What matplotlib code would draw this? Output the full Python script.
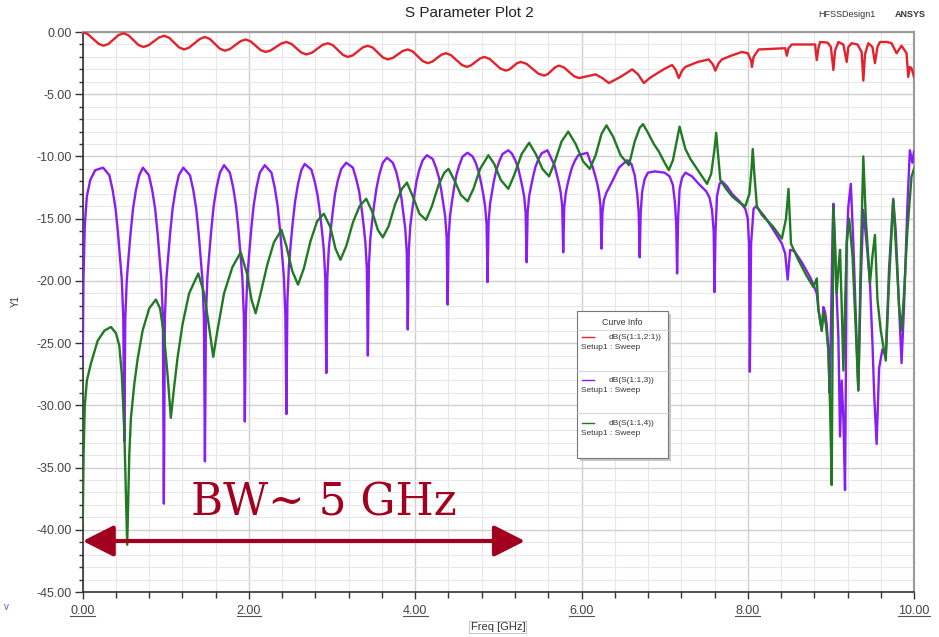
import numpy as np
import matplotlib
matplotlib.use("Agg")
import matplotlib.pyplot as plt
from matplotlib.ticker import MultipleLocator, FormatStrFormatter
from matplotlib.patches import Rectangle
import matplotlib.transforms as mtransforms

plt.rcParams['font.family'] = ['Liberation Sans', 'DejaVu Sans']

# dB(S(1:1,2:1)) -- red
s21 = [(0.00, 0.0), (0.06, -0.16), (0.125, -0.55), (0.19, -0.94), (0.25, -1.1),
       (0.31, -0.95), (0.37, -0.6), (0.43, -0.25), (0.49, -0.1),
       (0.55, -0.26), (0.61, -0.65), (0.67, -1.04), (0.73, -1.2),
       (0.79, -1.07), (0.855, -0.75), (0.92, -0.43), (0.98, -0.3),
       (1.04, -0.46), (1.10, -0.85), (1.16, -1.24), (1.22, -1.4),
       (1.28, -1.25), (1.345, -0.9), (1.41, -0.55), (1.47, -0.4),
       (1.53, -0.56), (1.59, -0.95), (1.65, -1.34), (1.71, -1.5),
       (1.77, -1.37), (1.835, -1.05), (1.90, -0.73), (1.96, -0.6),
       (2.02, -0.75), (2.08, -1.1), (2.14, -1.45), (2.20, -1.6),
       (2.26, -1.48), (2.325, -1.2), (2.39, -0.92), (2.45, -0.8),
       (2.51, -0.95), (2.57, -1.3), (2.63, -1.65), (2.69, -1.8),
       (2.755, -1.67), (2.82, -1.35), (2.885, -1.03), (2.95, -0.9),
       (3.01, -1.06), (3.07, -1.45), (3.13, -1.84), (3.19, -2.0),
       (3.25, -1.87), (3.31, -1.55), (3.37, -1.23), (3.43, -1.1),
       (3.49, -1.26), (3.55, -1.65), (3.61, -2.04), (3.67, -2.2),
       (3.73, -2.08), (3.79, -1.8), (3.85, -1.52), (3.91, -1.4),
       (3.97, -1.56), (4.03, -1.95), (4.09, -2.34), (4.15, -2.5),
       (4.205, -2.38), (4.26, -2.1), (4.315, -1.82), (4.37, -1.7),
       (4.43, -1.86), (4.495, -2.25), (4.56, -2.64), (4.62, -2.8),
       (4.67, -2.68), (4.725, -2.4), (4.78, -2.12), (4.83, -2.0),
       (4.895, -2.16), (4.96, -2.55), (5.025, -2.94), (5.09, -3.1),
       (5.135, -3.0), (5.18, -2.75), (5.225, -2.5), (5.27, -2.4),
       (5.34, -2.56), (5.41, -2.95), (5.48, -3.34), (5.55, -3.5),
       (5.595, -3.38), (5.64, -3.1), (5.685, -2.82), (5.73, -2.7),
       (5.79, -2.85), (5.85, -3.2), (5.91, -3.55), (5.97, -3.7),
       (6.07, -3.55), (6.17, -3.4), (6.25, -3.7), (6.33, -4.1), (6.47, -3.6), (6.61, -3.0),
       (6.68, -3.4), (6.75, -4.1), (6.82, -3.7), (6.89, -3.4), (7.00, -2.95), (7.09, -2.65),
       (7.13, -3.0), (7.17, -3.7), (7.21, -3.1), (7.25, -2.8), (7.40, -2.4), (7.53, -2.2),
       (7.58, -2.6), (7.61, -3.1), (7.65, -2.5), (7.69, -2.2), (7.80, -1.9), (7.93, -1.6),
       (8.00, -1.7), (8.04, -2.3), (8.05, -2.8), (8.07, -2.0), (8.13, -1.4), (8.30, -1.35),
       (8.45, -1.3), (8.47, -1.9), (8.49, -1.3), (8.53, -1.0), (8.70, -1.0), (8.81, -1.0),
       (8.83, -2.25), (8.85, -1.3), (8.87, -0.8), (8.96, -0.85), (9.00, -1.2), (9.03, -3.05),
       (9.05, -1.5), (9.09, -0.8), (9.15, -1.0), (9.19, -2.4), (9.21, -1.2), (9.25, -0.9),
       (9.32, -1.0), (9.37, -1.6), (9.39, -3.9), (9.41, -1.8), (9.45, -0.9), (9.50, -1.2),
       (9.53, -2.5), (9.56, -1.2), (9.59, -0.8), (9.68, -0.8), (9.73, -0.9), (9.79, -1.7),
       (9.85, -1.1), (9.91, -1.7), (9.93, -3.6), (9.95, -2.8), (9.97, -2.9), (10.00, -3.6)]

# dB(S(1:1,3)) -- purple
s13 = [(0.00, -26.5), (0.008, -20.0), (0.025, -15.5), (0.05, -13.2), (0.09, -11.9), (0.15, -11.1),
       (0.245, -10.9), (0.32, -11.5), (0.36, -12.7), (0.395, -14.2), (0.425, -16.2), (0.45, -18.2),
       (0.47, -19.9), (0.488, -23.0), (0.50, -32.9),
       (0.512, -23.0), (0.53, -19.9), (0.55, -18.2), (0.575, -16.2), (0.605, -14.2), (0.64, -12.7),
       (0.68, -11.5), (0.724, -10.9), (0.796, -11.5), (0.836, -12.7), (0.871, -14.2), (0.901, -16.2),
       (0.926, -18.2), (0.946, -19.9), (0.964, -23.0), (0.976, -37.9),
       (0.988, -23.0), (1.006, -19.9), (1.026, -18.2), (1.051, -16.2), (1.081, -14.2), (1.116, -12.7),
       (1.156, -11.5), (1.21, -10.9), (1.29, -11.5), (1.33, -12.7), (1.365, -14.2), (1.395, -16.2),
       (1.42, -18.2), (1.44, -19.9), (1.458, -23.0), (1.47, -34.5),
       (1.482, -22.8), (1.50, -19.7), (1.52, -18.0), (1.545, -16.0), (1.575, -14.0), (1.61, -12.5),
       (1.65, -11.3), (1.70, -10.7), (1.77, -11.3), (1.81, -12.5), (1.845, -14.0), (1.875, -16.0),
       (1.90, -18.0), (1.92, -19.7), (1.938, -22.8), (1.95, -31.3),
       (1.962, -22.8), (1.98, -19.7), (2.00, -18.0), (2.025, -16.0), (2.055, -14.0), (2.09, -12.5),
       (2.13, -11.3), (2.19, -10.7), (2.27, -11.3), (2.31, -12.5), (2.345, -14.0), (2.375, -16.0),
       (2.40, -18.0), (2.42, -19.7), (2.438, -22.8), (2.45, -30.7),
       (2.462, -21.6), (2.48, -18.8), (2.50, -17.2), (2.525, -15.4), (2.555, -13.6), (2.59, -12.2),
       (2.63, -11.1), (2.67, -10.6), (2.75, -11.05), (2.79, -12.0), (2.825, -13.1), (2.855, -14.6),
       (2.88, -16.1), (2.90, -17.5), (2.918, -19.8), (2.93, -27.4),
       (2.942, -19.8), (2.96, -17.4), (2.98, -16.1), (3.005, -14.6), (3.035, -13.0), (3.07, -11.9),
       (3.11, -11.0), (3.17, -10.5), (3.25, -10.9), (3.29, -11.8), (3.325, -12.8), (3.355, -14.2),
       (3.38, -15.6), (3.40, -16.9), (3.418, -19.0), (3.43, -26.0),
       (3.442, -18.8), (3.46, -16.6), (3.48, -15.3), (3.505, -13.9), (3.535, -12.5), (3.57, -11.4),
       (3.61, -10.5), (3.66, -10.1), (3.73, -10.5), (3.77, -11.2), (3.805, -12.2), (3.835, -13.4),
       (3.86, -14.7), (3.88, -15.8), (3.898, -17.7), (3.91, -23.9),
       (3.922, -17.6), (3.94, -15.6), (3.96, -14.5), (3.985, -13.3), (4.015, -12.0), (4.05, -11.05),
       (4.09, -10.3), (4.14, -9.9), (4.21, -10.2), (4.25, -10.9), (4.285, -11.7), (4.315, -12.8),
       (4.34, -13.9), (4.36, -14.8), (4.378, -16.5), (4.39, -21.9),
       (4.402, -16.4), (4.42, -14.7), (4.44, -13.7), (4.465, -12.6), (4.495, -11.5), (4.53, -10.7),
       (4.57, -10.0), (4.63, -9.7), (4.69, -10.0), (4.73, -10.55), (4.765, -11.3), (4.795, -12.2),
       (4.82, -13.1), (4.84, -14.0), (4.858, -15.4), (4.87, -20.1),
       (4.882, -15.3), (4.90, -13.8), (4.92, -13.0), (4.945, -12.0), (4.975, -11.1), (5.01, -10.4),
       (5.05, -9.8), (5.12, -9.5), (5.16, -9.75), (5.20, -10.25), (5.235, -10.85), (5.265, -11.7),
       (5.29, -12.5), (5.31, -13.2), (5.328, -14.5), (5.34, -18.5),
       (5.352, -14.5), (5.37, -13.2), (5.39, -12.5), (5.415, -11.7), (5.445, -10.85), (5.48, -10.25),
       (5.52, -9.75), (5.59, -9.5), (5.64, -10.2), (5.675, -10.7), (5.705, -11.5), (5.73, -12.2),
       (5.75, -12.9), (5.768, -14.0), (5.78, -17.7),
       (5.792, -14.1), (5.81, -13.0), (5.83, -12.3), (5.855, -11.6), (5.885, -10.9), (5.92, -10.35),
       (5.96, -9.9), (6.07, -9.7), (6.10, -10.3), (6.135, -10.85), (6.165, -11.55), (6.19, -12.2),
       (6.21, -12.9), (6.228, -13.9), (6.24, -17.4),
       (6.252, -14.5), (6.27, -13.5), (6.30, -12.9), (6.37, -12.0), (6.45, -10.9), (6.55, -10.3),
       (6.60, -10.6), (6.64, -11.5), (6.67, -13.0), (6.688, -14.5), (6.70, -18.1), (6.712, -14.5),
       (6.73, -12.8), (6.76, -11.8), (6.80, -11.3), (6.88, -11.2), (7.00, -11.3), (7.06, -11.6),
       (7.10, -12.3), (7.125, -13.8), (7.14, -15.5), (7.15, -19.4), (7.162, -15.0), (7.18, -12.6),
       (7.21, -11.7), (7.25, -11.3), (7.33, -11.6), (7.41, -12.2), (7.50, -12.8), (7.54, -13.3),
       (7.57, -14.3), (7.59, -16.0), (7.60, -20.9), (7.612, -16.0), (7.63, -13.2), (7.66, -12.2),
       (7.69, -12.0), (7.75, -12.4), (7.81, -13.0), (7.90, -13.6), (7.97, -14.2), (8.00, -15.0),
       (8.015, -17.0), (8.025, -27.3), (8.04, -17.0), (8.07, -14.2), (8.10, -14.0), (8.20, -14.8),
       (8.30, -15.8), (8.41, -17.0), (8.45, -17.8), (8.48, -19.9), (8.51, -17.5), (8.56, -17.6),
       (8.65, -18.5), (8.75, -19.7), (8.79, -20.3), (8.83, -21.0), (8.85, -22.3), (8.89, -24.0),
       (8.91, -22.1), (8.93, -22.5), (8.95, -23.5), (8.97, -25.6), (8.985, -29.0), (9.00, -24.0),
       (9.02, -16.0), (9.03, -13.8), (9.05, -17.0), (9.06, -19.7), (9.09, -24.5), (9.11, -32.5),
       (9.13, -28.0), (9.15, -31.0), (9.17, -36.8), (9.18, -28.0), (9.19, -17.0), (9.21, -14.0),
       (9.24, -12.2), (9.27, -17.0), (9.30, -23.0), (9.33, -28.8), (9.36, -20.0), (9.39, -14.3),
       (9.43, -17.0), (9.47, -20.2), (9.50, -25.0), (9.52, -29.0), (9.55, -33.1), (9.58, -27.0),
       (9.62, -25.5), (9.66, -26.0), (9.70, -19.0), (9.75, -13.4), (9.78, -16.0), (9.82, -22.0),
       (9.85, -26.6), (9.88, -22.0), (9.92, -14.0), (9.95, -9.5), (9.98, -10.5), (10.00, -9.6)]

# dB(S(1:1,4)) -- green
s14 = [(0.00, -39.5), (0.01, -34.0), (0.025, -30.0), (0.05, -28.0), (0.10, -26.6), (0.18, -24.8),
       (0.26, -24.0), (0.34, -23.7), (0.40, -24.2), (0.44, -25.2), (0.47, -27.5), (0.50, -32.0),
       (0.535, -41.2), (0.56, -34.0), (0.58, -31.0), (0.62, -28.3), (0.66, -26.3), (0.72, -24.0),
       (0.80, -22.2), (0.88, -21.5), (0.93, -22.2), (0.98, -24.5), (1.02, -27.5), (1.06, -31.0),
       (1.10, -28.5), (1.14, -26.2), (1.20, -23.5), (1.28, -21.0), (1.39, -19.4), (1.46, -21.0),
       (1.52, -23.7), (1.57, -26.1), (1.62, -24.0), (1.70, -21.0), (1.80, -18.9), (1.90, -17.7),
       (1.98, -19.5), (2.03, -21.5), (2.08, -22.6), (2.14, -21.0), (2.22, -18.7), (2.30, -16.9),
       (2.39, -15.9), (2.45, -17.2), (2.52, -19.2), (2.59, -20.3), (2.66, -19.0), (2.74, -16.8),
       (2.82, -15.2), (2.90, -14.6), (2.98, -15.7), (3.04, -17.4), (3.10, -18.3), (3.17, -17.2),
       (3.25, -15.3), (3.33, -14.0), (3.41, -13.4), (3.48, -14.4), (3.55, -15.9), (3.61, -16.5),
       (3.68, -15.6), (3.76, -13.8), (3.84, -12.6), (3.90, -12.1), (3.97, -13.2), (4.05, -14.6),
       (4.13, -15.1), (4.20, -14.0), (4.28, -12.3), (4.35, -11.3), (4.40, -11.0), (4.47, -11.9),
       (4.55, -13.1), (4.63, -13.6), (4.70, -12.6), (4.78, -11.0), (4.88, -9.9), (4.95, -10.6),
       (5.03, -11.9), (5.12, -12.6), (5.19, -11.5), (5.28, -9.8), (5.37, -8.9), (5.45, -9.8),
       (5.53, -11.0), (5.61, -11.6), (5.68, -10.4), (5.76, -8.8), (5.84, -8.0), (5.93, -9.0),
       (6.02, -10.4), (6.10, -11.0), (6.17, -9.9), (6.24, -8.2), (6.30, -7.5), (6.38, -8.4),
       (6.47, -9.9), (6.57, -10.7), (6.64, -8.8), (6.70, -7.7), (6.74, -7.4), (6.80, -8.1),
       (6.87, -9.0), (6.93, -9.6), (7.00, -10.5), (7.05, -11.1), (7.10, -10.3), (7.15, -8.6),
       (7.18, -7.6), (7.21, -8.4), (7.25, -9.4), (7.31, -10.2), (7.37, -10.8), (7.44, -11.5),
       (7.51, -12.2), (7.56, -11.4), (7.60, -9.4), (7.62, -8.1), (7.64, -9.6), (7.67, -11.9),
       (7.74, -12.6), (7.81, -13.2), (7.90, -13.7), (7.97, -14.0), (8.02, -13.0), (8.045, -11.0),
       (8.06, -9.4), (8.08, -11.5), (8.11, -14.0), (8.17, -14.7), (8.30, -15.6), (8.41, -16.6),
       (8.46, -15.0), (8.49, -12.6), (8.505, -14.8), (8.52, -17.0), (8.60, -18.2), (8.70, -19.5),
       (8.79, -20.5), (8.83, -19.8), (8.85, -22.3), (8.89, -24.0), (8.91, -22.5), (8.94, -23.5),
       (8.97, -25.6), (8.99, -30.1), (9.01, -36.4), (9.02, -25.0), (9.03, -14.0), (9.05, -17.5),
       (9.07, -21.0), (9.09, -19.0), (9.11, -17.5), (9.13, -22.0), (9.15, -27.2), (9.17, -22.0),
       (9.19, -17.0), (9.22, -15.0), (9.26, -18.0), (9.30, -24.0), (9.33, -28.8), (9.36, -18.0),
       (9.39, -10.0), (9.42, -15.0), (9.47, -20.2), (9.50, -18.0), (9.53, -16.3), (9.56, -21.5),
       (9.60, -24.0), (9.66, -26.4), (9.70, -20.0), (9.75, -13.5), (9.78, -17.0), (9.82, -22.0),
       (9.85, -24.0), (9.88, -21.0), (9.92, -16.0), (9.97, -11.6), (10.00, -11.0)]

curve_names = ["dB(S(1:1,2:1))", "dB(S(1:1,3))", "dB(S(1:1,4))"]
curve_colors = ["#e3222c", "#8a1cf5", "#1f7a22"]
x_ticks = [0, 2, 4, 6, 8, 10]
y_ticks = [0, -5, -10, -15, -20, -25, -30, -35, -40, -45]

fig = plt.figure(figsize=(9.39, 6.37), dpi=100)
ax = fig.add_axes([0.0881, 0.0706, 0.8853, 0.8791])

for data, col in zip([s21, s13, s14], curve_colors):
    f, db = np.array(data).T
    ax.plot(f, db, color=col, lw=1.7, zorder=3, solid_joinstyle='round')

ax.set_xlim(0, 10)
ax.set_ylim(-45, 0)
ax.set_xticks(x_ticks)
ax.set_yticks(y_ticks)
ax.xaxis.set_minor_locator(MultipleLocator(0.4))
ax.yaxis.set_minor_locator(MultipleLocator(1))
ax.xaxis.set_major_formatter(FormatStrFormatter('%.2f'))
ax.yaxis.set_major_formatter(FormatStrFormatter('%.2f'))
ax.grid(which='major', color='#cfcfcf', lw=1.0, zorder=0)
ax.grid(which='minor', color='#e8e8e8', lw=0.8, zorder=0)
ax.set_axisbelow(True)
ax.tick_params(axis='both', which='both', direction='out', colors='#333333',
               labelsize=9, labelcolor='#444444')
ax.tick_params(axis='y', which='major', length=6, width=1, pad=2)
ax.tick_params(axis='y', which='minor', length=3, width=1)
ax.tick_params(axis='x', which='major', length=5, width=1, pad=4)
ax.tick_params(axis='x', which='minor', length=4, width=1)
for s in ['left', 'bottom']:
    ax.spines[s].set_color('#333333')
    ax.spines[s].set_linewidth(1.2)
for s in ['top', 'right']:
    ax.spines[s].set_color('#9a9a9a')
    ax.spines[s].set_linewidth(1.5)

# underline the x tick labels (HFSS style)
trans = mtransforms.blended_transform_factory(ax.transData, ax.transAxes)
for v in x_ticks:
    half = 0.15 if v < 10 else 0.19
    ax.plot([v - half, v + half], [-0.042, -0.042], color='#555555', lw=0.8,
            transform=trans, clip_on=False)

ax.set_ylabel("Y1", fontsize=7, color='#333333')
ax.yaxis.set_label_coords(-0.075, 0.52)
fig.text(0.5302, 0.0157, "Freq [GHz]", fontsize=8, color='#333333', ha='center', va='center',
         bbox=dict(boxstyle='square,pad=0.1', fc='white', ec='#bbbbbb', lw=0.6))

fig.text(0.5, 0.980, "S Parameter Plot 2", fontsize=11, ha='center', va='center', color='#222222')
fig.text(0.871, 0.977, "HFSSDesign1", fontsize=6.5, ha='left', va='center', color='#333333')
fig.text(0.953, 0.978, "ANSYS", fontsize=6.5, ha='left', va='center', color='#333333',
         fontweight='bold')
fig.text(0.004, 0.047, "v", fontsize=7, color='#5555dd', ha='left', va='center')

# Curve Info box
def fx(px):
    return (px - 82.7) / 831.3

def fy(py):
    return 1 - (py - 32) / 560

x0, x1, y0, y1 = fx(577), fx(668), fy(458), fy(311)
ax.add_patch(Rectangle((x0 + 0.004, y0 - 0.006), x1 - x0, y1 - y0, transform=ax.transAxes,
                       fc='#c8c8c8', ec='none', zorder=5))
ax.add_patch(Rectangle((x0, y0), x1 - x0, y1 - y0, transform=ax.transAxes,
                       fc='white', ec='#777777', lw=0.8, zorder=6))
ax.text(fx(622), fy(322), "Curve Info", fontsize=6.3, ha='center', va='center',
        transform=ax.transAxes, zorder=7, color='#333333')
for sep in [330, 371, 413]:
    ax.plot([x0, x1], [fy(sep), fy(sep)], color='#cccccc', lw=0.6, transform=ax.transAxes, zorder=7)
for name, col, py in zip(curve_names, curve_colors, [337, 380, 423]):
    ax.plot([fx(581.5), fx(593.5)], [fy(py), fy(py)], color=col, lw=1.0,
            transform=ax.transAxes, zorder=7)
    ax.text(fx(609), fy(py), name, fontsize=6.0, ha='left', va='center',
            transform=ax.transAxes, zorder=7, color='#333333')
    ax.text(fx(581), fy(py + 10), "Setup1 : Sweep", fontsize=6.0, ha='left', va='center',
            transform=ax.transAxes, zorder=7, color='#333333')

# bandwidth annotation
ax.annotate("", xy=(0.0, -40.9), xytext=(5.32, -40.9),
            arrowprops=dict(arrowstyle='<|-|>,head_length=0.95,head_width=0.48',
                            color='#a3001f', lw=3.0, shrinkA=0, shrinkB=0, mutation_scale=20),
            zorder=8)
ax.text(2.90, -38.85, "BW~ 5 GHz", fontsize=31.5, color='#a3001f', ha='center', va='baseline',
        family='DejaVu Serif', zorder=8)

fig.savefig("out.png", dpi=100)
